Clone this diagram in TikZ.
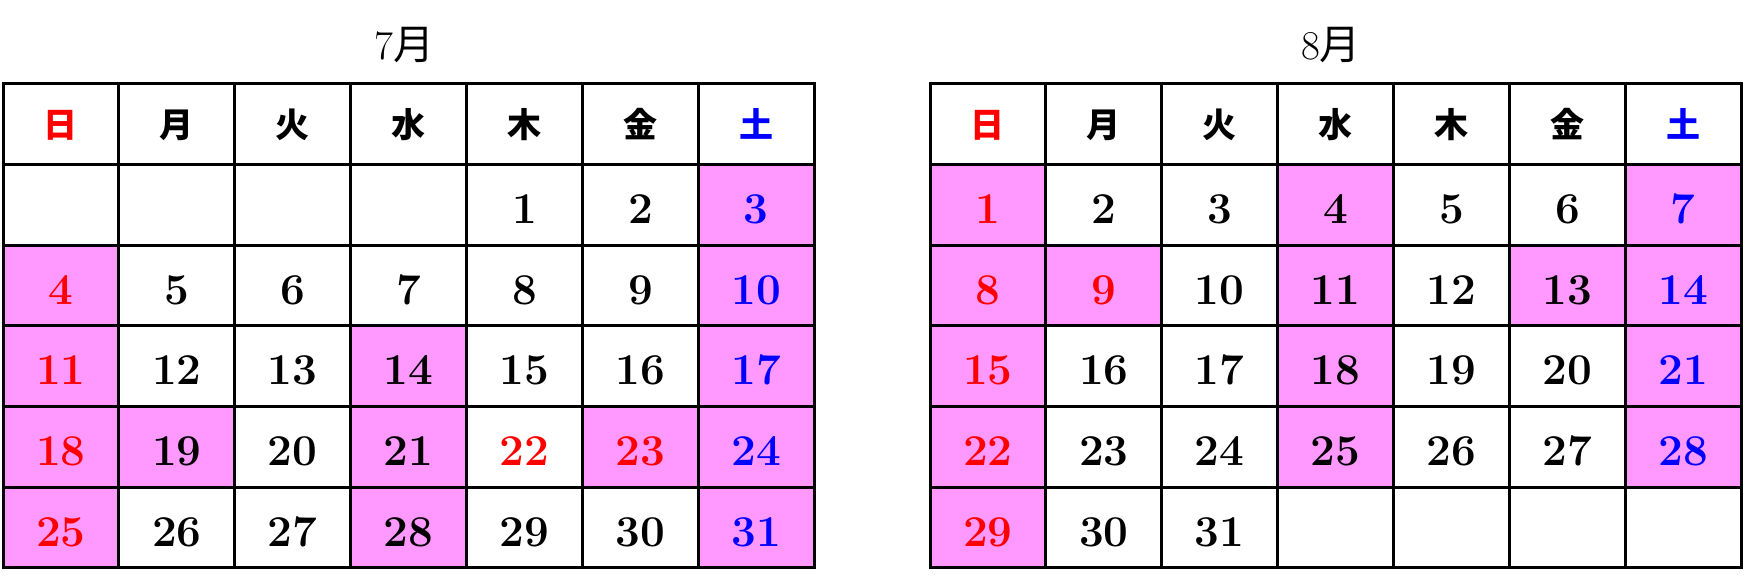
\documentclass[tikz,border=0pt]{standalone}
\usepackage{fontspec}
\newfontfamily\cjk{Noto Sans CJK JP}
\definecolor{pinkcell}{HTML}{FF99FF}
\definecolor{ck}{HTML}{000000}
\definecolor{cr}{HTML}{FF0000}
\definecolor{cb}{HTML}{0000FF}
\tikzset{
  gridline/.style={line width=3pt, line cap=rect, black},
  f0/.style={},
  f1/.style={fill=pinkcell},
  daynum/.style={inner sep=0pt, anchor=base, font=\fontsize{44}{44}\selectfont\bfseries},
  dayhead/.style={inner sep=0pt, anchor=base, font=\fontsize{34}{34}\selectfont\cjk\bfseries},
  monthtitle/.style={inner sep=0pt, anchor=base, font=\fontsize{41}{41}\selectfont},
}
\begin{document}
\begin{tikzpicture}[x=1pt,y=1pt]
\useasboundingbox (0,0) rectangle (1746,583);
\def\cw{115.9}
\def\rh{80.667}
\def\ytop{499}
% ---------- titles
\node[monthtitle] (jul-title) at (404.5,523) {7{\cjk 月}};
\node[monthtitle] (aug-title) at (1331,523) {8{\cjk 月}};
% ---------- July cells
\foreach \d/\c/\f in {1/ck/0,2/ck/0,3/cb/1,4/cr/1,5/ck/0,6/ck/0,7/ck/0,8/ck/0,9/ck/0,10/cb/1,
  11/cr/1,12/ck/0,13/ck/0,14/ck/1,15/ck/0,16/ck/0,17/cb/1,18/cr/1,19/ck/1,20/ck/0,21/ck/1,
  22/cr/0,23/cr/1,24/cb/1,25/cr/1,26/ck/0,27/ck/0,28/ck/1,29/ck/0,30/ck/0,31/cb/1}{
  \pgfmathtruncatemacro\idx{\d+3}
  \pgfmathtruncatemacro\row{1+floor(\idx/7)}
  \pgfmathtruncatemacro\col{mod(\idx,7)}
  \pgfmathsetmacro\xl{3+\col*\cw}
  \pgfmathsetmacro\xr{3+(\col+1)*\cw}
  \pgfmathsetmacro\yt{\ytop-\row*\rh}
  \pgfmathsetmacro\yb{\ytop-(\row+1)*\rh}
  \pgfmathsetmacro\cx{3+(\col+0.5)*\cw}
  \pgfmathsetmacro\cy{\ytop-(\row+0.5)*\rh-18.5}
  \path[f\f] (\xl,\yt) rectangle (\xr,\yb);
  \node[daynum, text=\c] (jul-\d) at (\cx,\cy) {\d};
}
% ---------- August cells
\foreach \d/\c/\f in {1/cr/1,2/ck/0,3/ck/0,4/ck/1,5/ck/0,6/ck/0,7/cb/1,8/cr/1,9/cr/1,10/ck/0,
  11/ck/1,12/ck/0,13/ck/1,14/cb/1,15/cr/1,16/ck/0,17/ck/0,18/ck/1,19/ck/0,20/ck/0,21/cb/1,
  22/cr/1,23/ck/0,24/ck/0,25/ck/1,26/ck/0,27/ck/0,28/cb/1,29/cr/1,30/ck/0,31/ck/0}{
  \pgfmathtruncatemacro\idx{\d-1}
  \pgfmathtruncatemacro\row{1+floor(\idx/7)}
  \pgfmathtruncatemacro\col{mod(\idx,7)}
  \pgfmathsetmacro\xl{930+\col*\cw}
  \pgfmathsetmacro\xr{930+(\col+1)*\cw}
  \pgfmathsetmacro\yt{\ytop-\row*\rh}
  \pgfmathsetmacro\yb{\ytop-(\row+1)*\rh}
  \pgfmathsetmacro\cx{930+(\col+0.5)*\cw}
  \pgfmathsetmacro\cy{\ytop-(\row+0.5)*\rh-18.5}
  \path[f\f] (\xl,\yt) rectangle (\xr,\yb);
  \node[daynum, text=\c] (aug-\d) at (\cx,\cy) {\d};
}
% ---------- headers
\foreach \m/\x in {jul/3,aug/930}{
  \foreach \i/\w/\c in {0/日/cr,1/月/ck,2/火/ck,3/水/ck,4/木/ck,5/金/ck,6/土/cb}{
    \pgfmathsetmacro\cx{\x+(\i+0.5)*\cw}
    \pgfmathsetmacro\cy{\ytop-0.5*\rh-13}
    \node[dayhead, text=\c] (\m-h\i) at (\cx,\cy) {\w};
  }
  % grid lines
  \pgfmathsetmacro\xe{\x+7*\cw}
  \pgfmathsetmacro\yb{\ytop-6*\rh}
  \foreach \i in {0,...,7}{
    \pgfmathsetmacro\xx{\x+\i*\cw}
    \draw[gridline] (\xx,\ytop) -- (\xx,\yb);
  }
  \foreach \j in {0,...,6}{
    \pgfmathsetmacro\yy{\ytop-\j*\rh}
    \draw[gridline] (\x,\yy) -- (\xe,\yy);
  }
}
\end{tikzpicture}
\end{document}
